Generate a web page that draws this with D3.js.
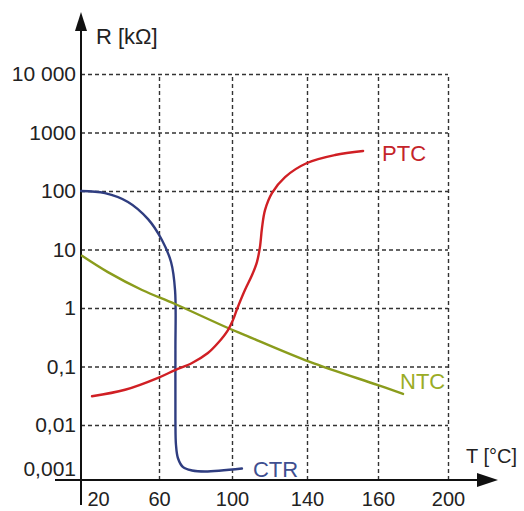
<!DOCTYPE html>
<html>
<head>
<meta charset="utf-8">
<script src="https://cdn.jsdelivr.net/npm/d3@7"></script>
<style>
  body { margin: 0; background: #fff; }
  text { font-family: "Liberation Sans", Arial, sans-serif; }
</style>
</head>
<body>
<div class="container"></div>
<script>
// axis ticks (the drawn temperature axis is not evenly scaled)
const tempTicks = [20, 60, 100, 140, 160, 200];
const rTicks = [0.001, 0.01, 0.1, 1, 10, 100, 1000, 10000];
const rLabels = ["0,001", "0,01", "0,1", "1", "10", "100", "1000", "10 000"];

// CTR
const ctrT = [17.3, 30.4, 43, 54, 61.6, 66.6, 68.8, 69.0, 69.0, 69.3, 70.4, 73.2, 78.1, 85.2, 105.3];
const ctrR = [100, 92, 65, 33, 14.5, 6.1, 2.0, 0.19, 0.012, 0.0046, 0.0027, 0.0019, 0.00167, 0.0016, 0.0018];

// NTC
const ntcT = [17.8, 32, 50.7, 68.8, 97.8, 106.9, 140.8, 160, 174.3];
const ntcR = [7.8, 4.1, 2.03, 1.17, 0.455, 0.345, 0.12, 0.048, 0.034];

// PTC
const ptcT = [23.3, 41.4, 59.5, 68.8, 78.1, 86.8, 92.3, 97.8, 100.5, 102.7, 106.9, 110.7, 113.3, 114.9, 116, 117.6, 121.3, 128.3, 140, 147.9, 155.8];
const ptcR = [0.031, 0.040, 0.064, 0.087, 0.115, 0.17, 0.252, 0.42, 0.62, 0.96, 2.03, 3.66, 6.1, 11, 23.3, 47, 92, 173, 301, 412, 483];

const w = 524;
const h = 511;
const axisX = 81;
const axisY = 480;

const x = d3.scaleLinear()
  .domain(tempTicks)
  .range([86, 159, 232, 307, 378, 448]);

const y = d3.scaleLog()
  .domain([0.001, 10000])
  .range([483.5, 74]);

const svg = d3.select(".container")
  .append("svg")
  .attr("width", w)
  .attr("height", h);

// horizontal grid + y labels
const yAxis = d3.axisLeft(y)
  .tickValues(rTicks)
  .tickFormat((d, i) => rLabels[i])
  .tickSize(-(x(200) - axisX))
  .tickPadding(5);

const gy = svg.append("g")
  .attr("transform", "translate(" + axisX + ",0)")
  .call(yAxis);
gy.select(".domain").remove();
gy.selectAll(".tick line")
  .attr("stroke", "#333")
  .attr("stroke-width", 1.4)
  .attr("stroke-dasharray", "4,3")
  .attr("opacity", (d) => d === 0.001 ? 0 : 1);
gy.selectAll(".tick text")
  .attr("font-size", 21)
  .attr("fill", "#222")
  .attr("dy", (d) => d === 0.001 ? "-0.4em" : "0.32em");

// vertical grid + x labels
const xAxis = d3.axisBottom(x)
  .tickValues(tempTicks)
  .tickFormat(d3.format("d"))
  .tickSize(-(axisY - y(10000)))
  .tickPadding(12);

const gx = svg.append("g")
  .attr("transform", "translate(0," + axisY + ")")
  .call(xAxis);
gx.select(".domain").remove();
gx.selectAll(".tick line")
  .attr("stroke", "#333")
  .attr("stroke-width", 1.4)
  .attr("stroke-dasharray", "4,3")
  .attr("opacity", (d) => d === 20 ? 0 : 1);
gx.selectAll(".tick text")
  .attr("font-size", 20)
  .attr("fill", "#222")
  .attr("dx", (d) => d === 20 ? 12 : 0);

// main axes with arrows
svg.append("line")
  .attr("x1", axisX).attr("x2", axisX)
  .attr("y1", 28).attr("y2", 505)
  .attr("stroke", "#111").attr("stroke-width", 2);
svg.append("path")
  .attr("d", "M" + axisX + ",12 L" + (axisX - 6) + ",31 L" + (axisX + 6) + ",31 Z")
  .attr("fill", "#111");

svg.append("line")
  .attr("x1", 55).attr("x2", 480)
  .attr("y1", axisY).attr("y2", axisY)
  .attr("stroke", "#111").attr("stroke-width", 2);
svg.append("path")
  .attr("d", "M498," + axisY + " L477," + (axisY - 7) + " L477," + (axisY + 7) + " Z")
  .attr("fill", "#111");

svg.append("text")
  .attr("x", 96).attr("y", 44)
  .attr("font-size", 22)
  .attr("fill", "#222")
  .text("R [kΩ]");

svg.append("text")
  .attr("x", 466).attr("y", 463)
  .attr("font-size", 20)
  .attr("fill", "#222")
  .text("T [°C]");

// curves
const line = d3.line()
  .x((d) => x(d[0]))
  .y((d) => y(d[1]))
  .curve(d3.curveCatmullRom.alpha(0.5));

const series = [
  { name: "CTR", t: ctrT, r: ctrR, color: "#2f3d80", label: "#3f4f90", dx: 11, dy: 8 },
  { name: "NTC", t: ntcT, r: ntcR, color: "#8a9c1c", label: "#9aac26", dx: -3, dy: -5 },
  { name: "PTC", t: ptcT, r: ptcR, color: "#d01f24", label: "#c4242a", dx: 19, dy: 10 }
];

series.forEach((s) => {
  const pts = s.t.map((t, i) => [t, s.r[i]]);
  svg.append("path")
    .datum(pts)
    .attr("d", line)
    .attr("fill", "none")
    .attr("stroke", s.color)
    .attr("stroke-width", 2.4)
    .attr("stroke-linecap", "round");
  const last = pts[pts.length - 1];
  svg.append("text")
    .attr("x", x(last[0]) + s.dx)
    .attr("y", y(last[1]) + s.dy)
    .attr("font-size", 22)
    .attr("fill", s.label)
    .text(s.name);
});
</script>
</body>
</html>
